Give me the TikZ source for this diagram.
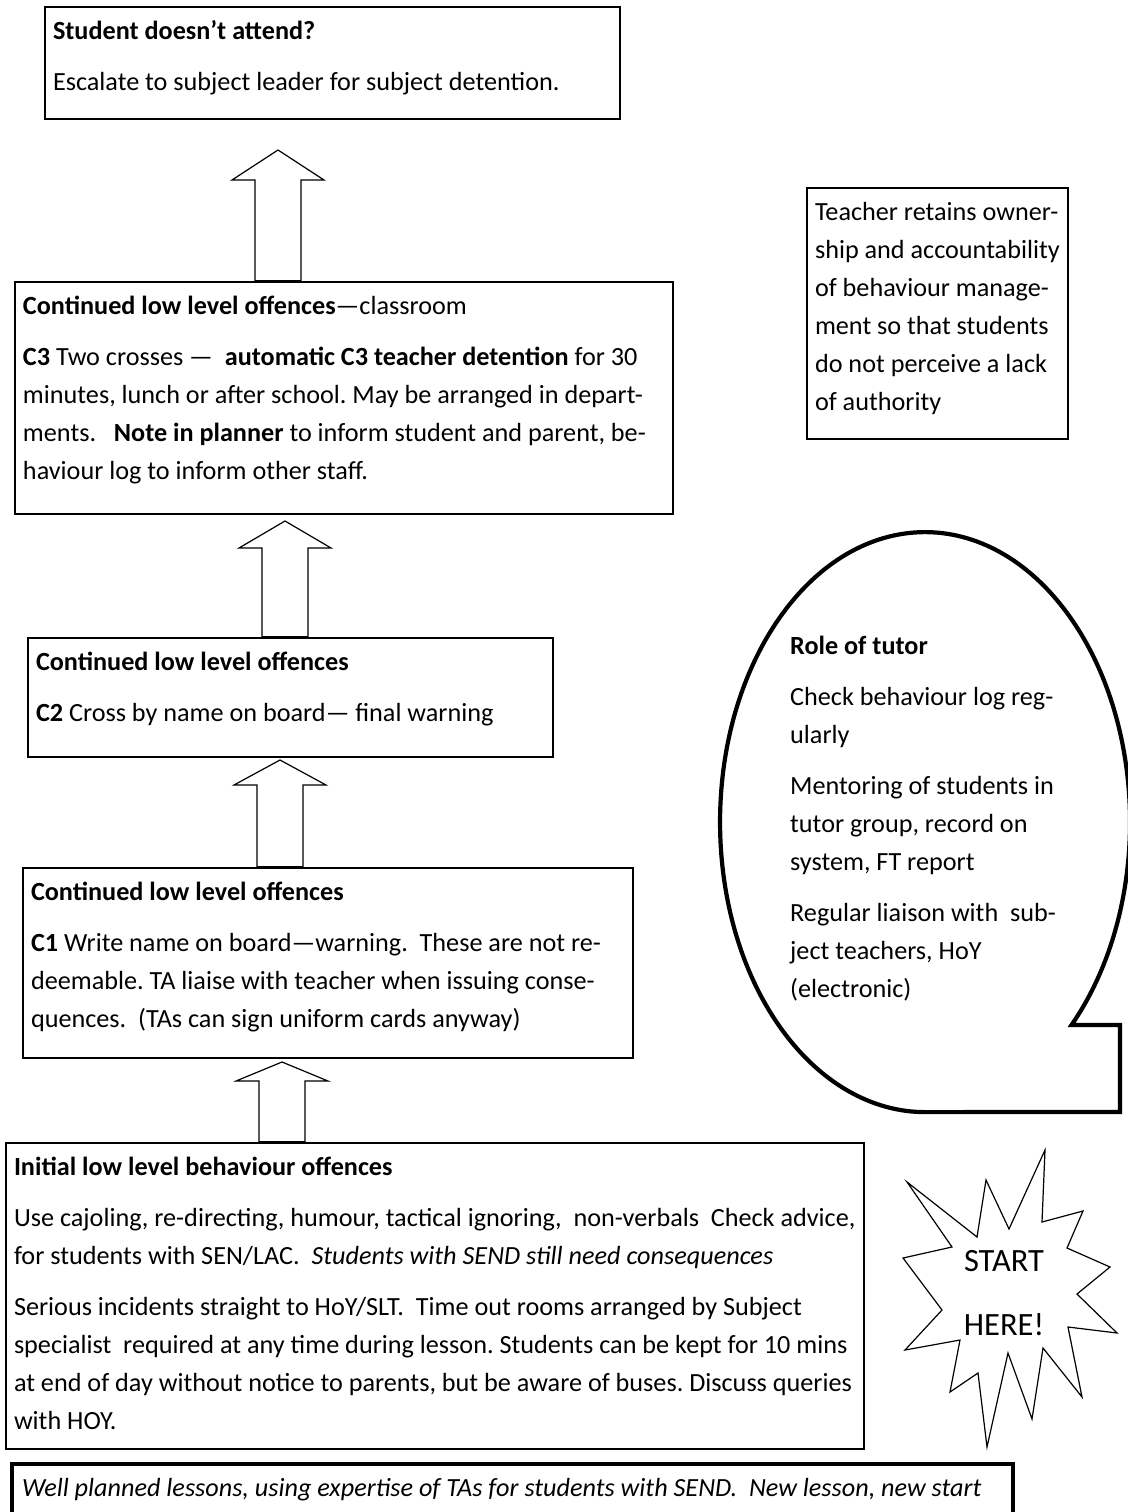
\documentclass[tikz,border=0pt]{standalone}
\usepackage{fontspec}
\setmainfont{Carlito}
\usetikzlibrary{calc}
\frenchspacing

\newcommand{\bodyfont}{\fontsize{26.2}{38}\selectfont}
\newcommand{\boxbody}[3]{\begin{minipage}[t][#2pt][t]{#1pt}\begin{tabular}[t]{@{}l@{}}#3\end{tabular}\end{minipage}}

\tikzset{
  rulebox/.style={draw, line width=2.8pt, anchor=north west, inner xsep=8pt, inner ysep=6pt, outer sep=0pt, font=\bodyfont},
  blockup/.style={draw, fill=white, line width=1.2pt,
    to path={($(\tikztostart)+(-23,-1.3)$) -- ($(\tikztotarget)+(-23,#1)$) -- ($(\tikztotarget)+(-46,#1)$) -- (\tikztotarget)
      -- ($(\tikztotarget)+(46,#1)$) -- ($(\tikztotarget)+(23,#1)$) -- ($(\tikztostart)+(23,-1.3)$) -- cycle}},
  blockup/.default=27
}

\begin{document}
\begin{tikzpicture}[x=1pt, y=-1pt]
\useasboundingbox (0,0) rectangle (1127,1512);

% steps, top to bottom
\node[rulebox] (A) at (45,7) {\boxbody{559}{100}{\textbf{Student doesn’t attend?}\\[13pt]
  Escalate to subject leader for subject detention.}};
\node[rulebox] (B) at (15,282) {\boxbody{642}{220}{\textbf{Continued low level offences}—classroom\\[13pt]
  \textbf{C3} Two crosses —\ \ \textbf{automatic C3 teacher detention} for 30\\
  minutes, lunch or after school. May be arranged in depart-\\
  ments.\ \ \ \textbf{Note in planner} to inform student and parent, be-\\
  haviour log to inform other staff.}};
\node[rulebox] (C) at (28,638) {\boxbody{509}{107}{\textbf{Continued low level offences}\\[13pt]
  \textbf{C2} Cross by name on board— final warning}};
\node[rulebox] (D) at (23,868) {\boxbody{594}{178}{\textbf{Continued low level offences}\\[13pt]
  \textbf{C1} Write name on board—warning.\ \ These are not re-\\
  deemable. TA liaise with teacher when issuing conse-\\
  quences.\ \ (TAs can sign uniform cards anyway)}};
\node[rulebox] (E) at (6,1143) {\boxbody{842}{294}{\textbf{Initial low level behaviour offences}\\[13pt]
  Use cajoling, re-directing, humour, tactical ignoring,\ \ non-verbals\ \ Check advice,\\
  for students with SEN/LAC.\ \ \textit{Students with SEND still need consequences}\\[13pt]
  Serious incidents straight to HoY/SLT.\ \ Time out rooms arranged by Subject\\
  specialist\ \ required at any time during lesson. Students can be kept for 10 mins\\
  at end of day without notice to parents, but be aware of buses. Discuss queries\\
  with HOY.}};
\node[rulebox, line width=4.5pt, inner xsep=10pt] (F) at (12,1464) {\boxbody{981}{38}{\itshape Well planned lessons, using expertise of TAs for students with SEND.\ \ New lesson, new start}};

% side notes
\node[rulebox] (G) at (807,188) {\boxbody{245}{239}{Teacher retains owner-\\ship and accountability\\of behaviour manage-\\ment so that students\\do not perceive a lack\\of authority}};
\node[anchor=north west, inner sep=0pt, font=\bodyfont] (tutor) at (790,628) {\begin{tabular}[t]{@{}l@{}}\textbf{Role of tutor}\\[13pt]
  Check behaviour log reg-\\ularly\\[13pt]
  Mentoring of students in\\tutor group, record on\\system, FT report\\[13pt]
  Regular liaison with\ \ sub-\\ject teachers, HoY\\(electronic)\end{tabular}};
\draw[line width=4.2pt, line join=miter] (1071.5,1025) arc[start angle=44.4, end angle=-270, x radius=205, y radius=290]
  -- (1120,1112) -- (1120,1025) -- cycle;

% start burst
\draw[line width=1.2pt, line join=miter] (1045,1150) -- (1042,1222) -- (1083,1211) -- (1067,1248) -- (1110,1267) -- (1077,1294)
  -- (1117,1333) -- (1068,1327) -- (1082,1397) -- (1043,1348) -- (1032,1419) -- (1008,1353) -- (987,1447) -- (978,1373)
  -- (950,1392) -- (960,1340) -- (905,1350) -- (942,1310) -- (903,1258) -- (952,1247) -- (907,1182) -- (977,1237)
  -- (986,1180) -- (1009,1229) -- cycle;
\node[font=\fontsize{32.5}{64}\selectfont, align=center] (start) at (1004,1293) {START\\HERE!};

% arrows
\coordinate (t1) at (278,150);
\coordinate (t2) at (285,521);
\coordinate (t3) at (280,760);
\coordinate (t4) at (282,1062);
\coordinate (b1) at (B.north -| t1);
\coordinate (b2) at (C.north -| t2);
\coordinate (b3) at (D.north -| t3);
\coordinate (b4) at (E.north -| t4);
\draw[blockup=30] (b1) to (t1);
\draw[blockup=27] (b2) to (t2);
\draw[blockup=25] (b3) to (t3);
\draw[blockup=19] (b4) to (t4);
\end{tikzpicture}
\end{document}
